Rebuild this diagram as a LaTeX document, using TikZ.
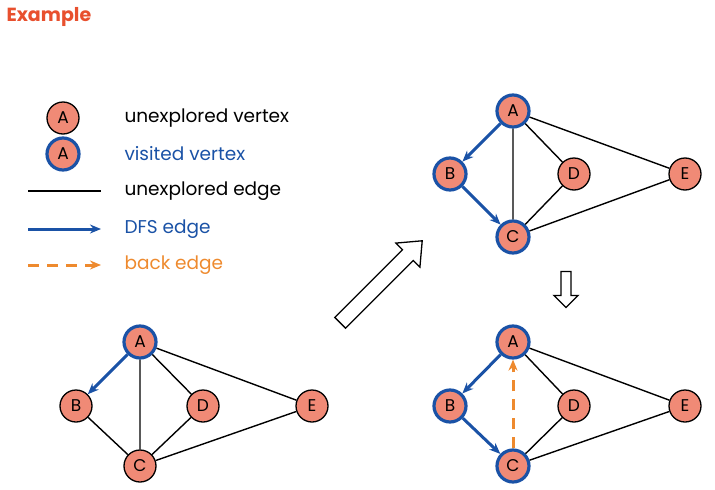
\documentclass[tikz,border=0pt]{standalone}
\usepackage{fontspec}
\setmainfont{Poppins}
\usetikzlibrary{arrows.meta,shapes.arrows}
\definecolor{sal}{HTML}{F08A76}
\definecolor{dblue}{HTML}{1A52A6}
\definecolor{org}{HTML}{EE8A2E}
\definecolor{tred}{HTML}{E8502E}
\begin{document}
\begin{tikzpicture}[x=1pt,y=-1pt,
 v/.style={circle,draw=black,fill=sal,line width=1.3pt,minimum size=32pt,inner sep=0pt,font=\fontsize{17}{17}\selectfont},
 vis/.style={v,draw=dblue,line width=3.2pt},
 ue/.style={draw=black,line width=1.4pt},
 dfs/.style={draw=dblue,line width=3pt,-{Stealth[length=11pt,width=9pt]}},
 back/.style={draw=org,line width=3pt,dash pattern=on 11pt off 8pt,-{Stealth[length=11pt,width=9pt]}},
 lab/.style={anchor=west,font=\fontsize{18.5}{19}\selectfont}]
\useasboundingbox (0,0) rectangle (715,490);
\node[anchor=west,font=\bfseries\fontsize{19}{19}\selectfont,text=tred] (title) at (3,17) {Example};
% legend
\node[v] (l1) at (63,118) {A};
\node[vis] (l2) at (63,154) {A};
\coordinate (e1a) at (28,191); \coordinate (e1b) at (101,191);
\coordinate (e2a) at (28,229); \coordinate (e2b) at (101,229);
\coordinate (e3a) at (28,265); \coordinate (e3b) at (101,265);
\draw[ue] (e1a) -- (e1b);
\draw[dfs] (e2a) -- (e2b);
\draw[back] (e3a) -- (e3b);
\node[lab] (t1) at (121,118) {unexplored vertex};
\node[lab,text=dblue] (t2) at (121,154) {visited vertex};
\node[lab] (t3) at (121,191) {unexplored edge};
\node[lab,text=dblue] (t4) at (121,229) {DFS edge};
\node[lab,text=org] (t5) at (121,265) {back edge};
% graph 1
\node[vis] (a1) at (140,342) {A};
\node[v] (b1) at (76,406) {B};
\node[v] (d1) at (203,406) {D};
\node[v] (e1) at (312,406) {E};
\node[v] (c1) at (140,466) {C};
\draw[ue] (a1)--(c1) (a1)--(d1) (a1)--(e1) (b1)--(c1) (c1)--(d1) (c1)--(e1);
\draw[dfs] (a1)--(b1);
% graph 2
\node[vis] (a2) at (513,111) {A};
\node[vis] (b2) at (450,174) {B};
\node[v] (d2) at (574,174) {D};
\node[v] (e2) at (685,174) {E};
\node[vis] (c2) at (513,237) {C};
\draw[ue] (a2)--(c2) (a2)--(d2) (a2)--(e2) (c2)--(d2) (c2)--(e2);
\draw[dfs] (a2)--(b2);
\draw[dfs] (b2)--(c2);
% graph 3
\node[vis] (a3) at (513,342) {A};
\node[vis] (b3) at (450,406) {B};
\node[v] (d3) at (574,406) {D};
\node[v] (e3) at (685,406) {E};
\node[vis] (c3) at (513,466) {C};
\draw[ue] (a3)--(d3) (a3)--(e3) (c3)--(d3) (c3)--(e3);
\draw[dfs] (a3)--(b3);
\draw[dfs] (b3)--(c3);
\draw[back] (c3)--(a3);
% hollow arrows
\node[single arrow,draw=black,fill=white,line width=1.3pt,minimum height=116pt,minimum width=34pt,single arrow head extend=7pt,single arrow tip angle=80,inner sep=5pt,rotate=45] (big) at (378,285) {};
\node[single arrow,draw=black,fill=white,line width=1.3pt,minimum height=36pt,minimum width=24pt,single arrow head extend=5pt,inner sep=3pt,rotate=-90] (down) at (566,287) {};
\end{tikzpicture}
\end{document}
